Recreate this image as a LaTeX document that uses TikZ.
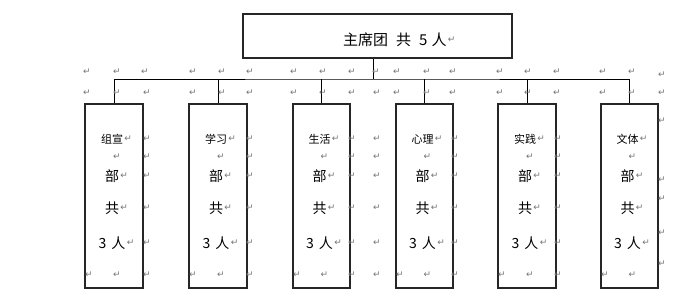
\documentclass[tikz,border=0pt]{standalone}
\usepackage{fontspec}
\newfontfamily\cjk{Noto Sans CJK SC}
\newfontfamily\dv{DejaVu Sans}
\tikzset{
  box/.style={draw=black!85, line width=1.5pt, inner sep=0pt},
  conn/.style={draw=black, line width=0.8pt},
  pm/.style={text=black!55, font=\dv\fontsize{9}{9}\selectfont, inner sep=0pt},
  big/.style={font=\cjk\fontsize{14}{14}\selectfont, inner sep=0pt},
  small/.style={font=\cjk\fontsize{11}{11}\selectfont, inner sep=0pt},
}
\begin{document}
\begin{tikzpicture}[x=1pt,y=-1pt]
\useasboundingbox (0,0) rectangle (675,307);
% top box
\node[box, minimum width=269pt, minimum height=44pt] (top) at (377.5,36) {};
\node[font=\cjk\fontsize{15}{15}\selectfont, inner sep=0pt, anchor=west] (toptxt) at (343,40) {主席团\hspace{8pt}共\hspace{8pt}5\hspace{4pt}人};
\node[pm, anchor=west] (toppm) at ([xshift=1pt]toptxt.east) {↵};
\coordinate (hub) at (373,79);
% department boxes
\foreach \i/\l/\r/\name in {1/85/143/组宣,2/189/247/学习,3/293/350/生活,4/396/453/心理,5/498/556/实践,6/601/658/文体}{
  \pgfmathsetmacro{\cx}{(\l+\r)/2}
  \pgfmathsetmacro{\w}{\r-\l}
  \node[box, minimum width=\w pt, minimum height=184pt] (b\i) at (\cx,196) {};
  \node[small] (n\i) at (\cx-2,139) {\name};
  \node[pm, anchor=west] at ([xshift=1pt]n\i.east) {↵};
  \node[pm] at (\cx+3,157) {↵};
  \node[big] (d\i) at (\cx-2,176) {部};
  \node[pm, anchor=west] at ([xshift=1pt]d\i.east) {↵};
  \node[big] (g\i) at (\cx-2,208) {共};
  \node[pm, anchor=west] at ([xshift=1pt]g\i.east) {↵};
  \node[big] (p\i) at (\cx-2,243) {3\hspace{5pt}人};
  \node[pm, anchor=west] at ([xshift=1pt]p\i.east) {↵};
  \node[pm] at (\l+4,275) {↵};
  \node[pm] at (\cx+3,275) {↵};
}
% connectors
\draw[conn] (top.south -| hub) -- (hub);
\draw[conn] (b1.north) |- (hub) -| (b6.north);
\foreach \i in {2,3,4,5}{
  \draw[conn] (b\i.north) -- (b\i.north |- hub);
}
% paragraph-mark rows
\foreach \x in {87,117,145,193,222,250,294,323,352,376,397,427,453,500,528,557,603,632}{
  \node[pm] at (\x,72) {↵};
}
\node[pm] at (662,75) {↵};
\foreach \x in {87,117,147,193,222,250,294,323,352,377,397,427,453,500,528,557,603,632,662}{
  \node[pm] at (\x,93) {↵};
}
% right columns
\foreach \x in {147,250,352,377,455,558}{
  \foreach \y in {139,157,176,208,243,275}{
    \node[pm] at (\x,\y) {↵};
  }
}
\foreach \y in {121,180,199,233,264}{
  \node[pm] at (662,\y) {↵};
}
\end{tikzpicture}
\end{document}
